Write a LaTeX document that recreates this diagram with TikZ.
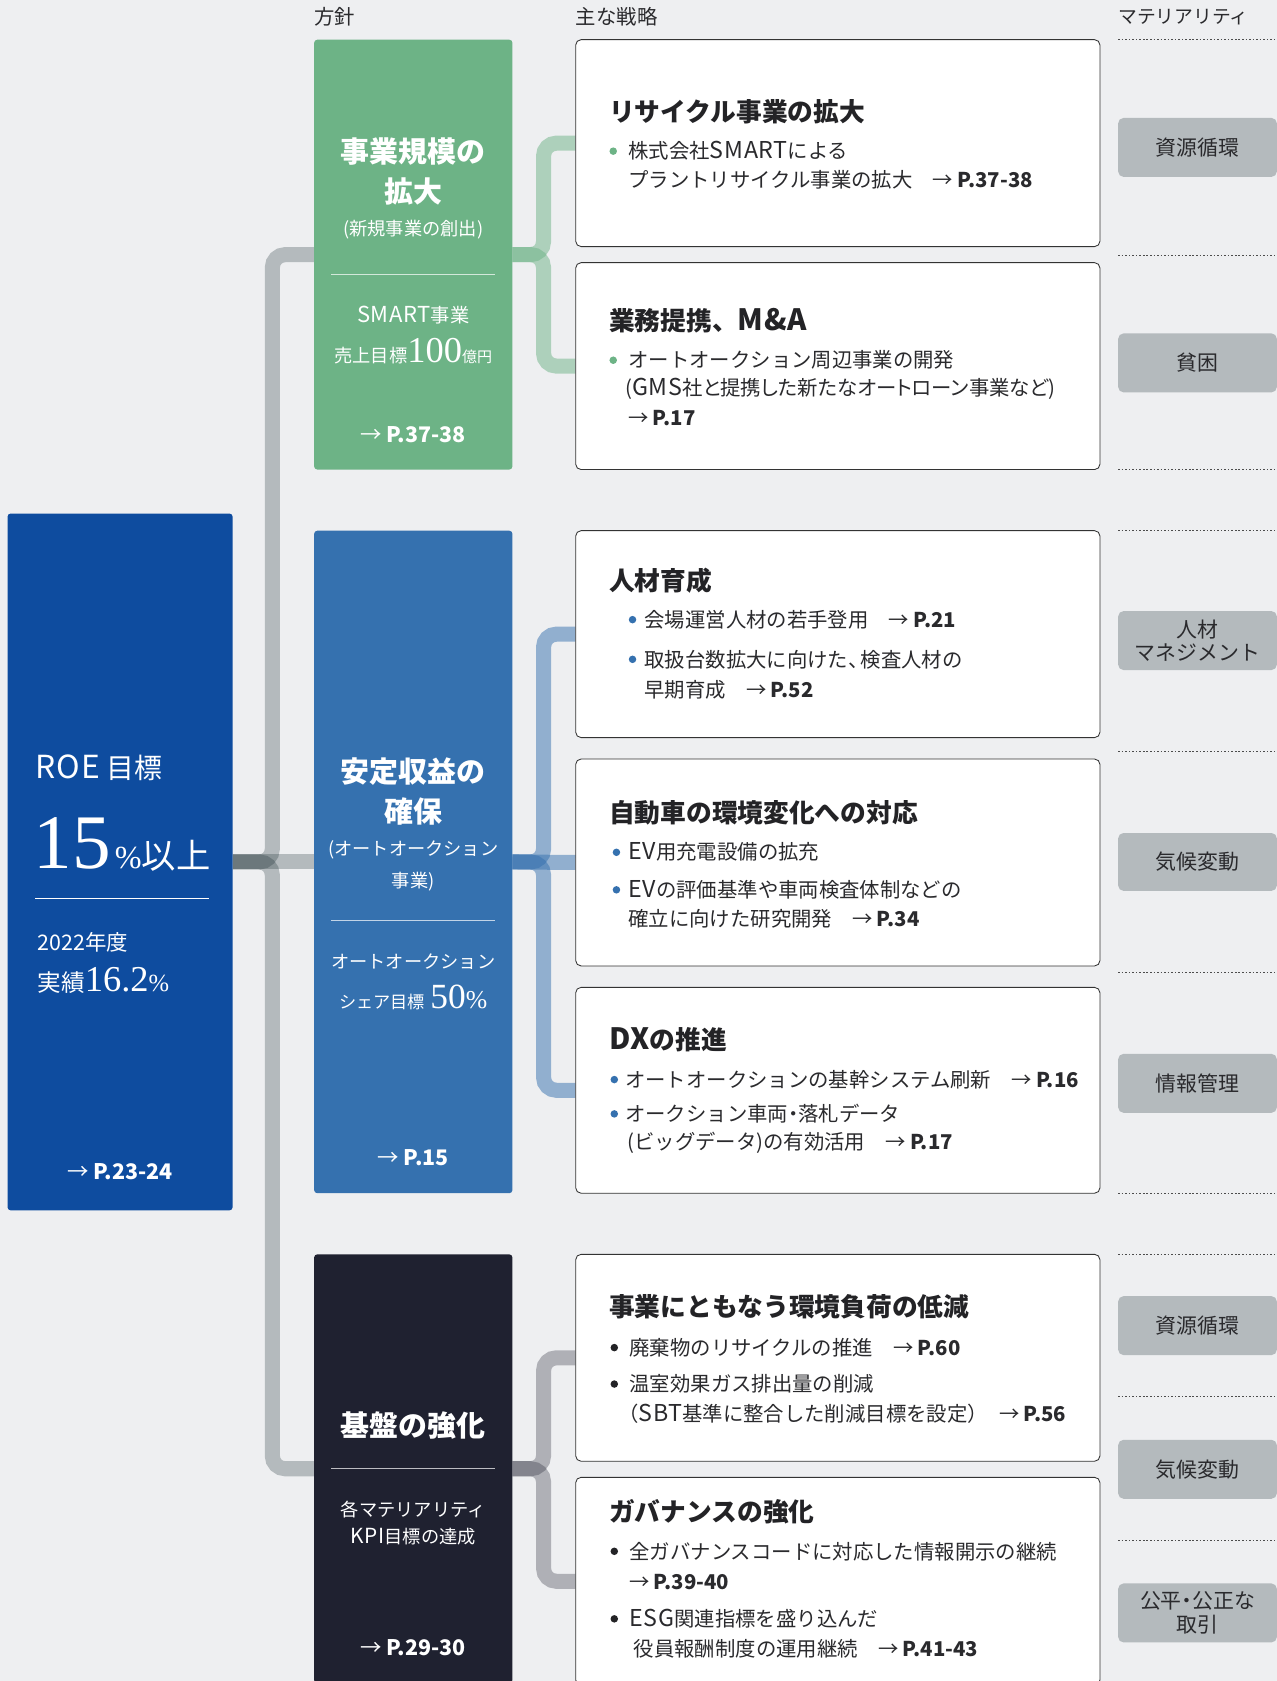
\documentclass[tikz,border=0pt]{standalone}
\usepackage{fontspec}
\setmainfont{Noto Sans CJK JP}
\newfontfamily\serifnum{Liberation Serif}
\newfontfamily\latf{Noto Sans CJK JP}[Scale=1.14, LetterSpace=3]
\definecolor{bgc}{RGB}{238,239,241}
\definecolor{roec}{RGB}{14,76,159}
\definecolor{grn}{RGB}{109,179,134}
\definecolor{blu}{RGB}{53,113,175}
\definecolor{drk}{RGB}{31,33,48}
\definecolor{tagc}{RGB}{180,186,189}
\definecolor{trk}{RGB}{31,50,55}
\definecolor{ttlc}{RGB}{35,35,38}
\definecolor{bod}{RGB}{42,42,45}
\newcommand{\pgref}[1]{{\mdseries →}\hspace{0.2em}{\bfseries P.#1}}
\newcommand{\tcomma}{\makebox[0.62em][l]{、}}
\newcommand{\tdot}{\makebox[0.5em][c]{・}}
\newcommand{\lpar}{\makebox[0.55em][r]{（}}
\newcommand{\rpar}{\makebox[0.55em][l]{）}}
\newcommand{\lt}[1]{{\latf #1}}
\pgfdeclarelayer{bglayer}
\pgfdeclarelayer{connlayer}
\pgfsetlayers{bglayer,connlayer,main}
\tikzset{
  pbox/.style={rounded corners=3pt, inner sep=0pt, outer sep=0pt, anchor=north west},
  sbox/.style={draw=black!80, line width=0.8pt, fill=white, rounded corners=5pt, inner sep=0pt, outer sep=0pt, anchor=north west, minimum width=489pt},
  tagbox/.style={fill=tagc, rounded corners=5pt, inner sep=0pt, outer sep=0pt, anchor=north west, minimum width=148pt, minimum height=55pt, align=center, text=bod, font=\fontsize{19.5}{22}\selectfont},
  trunkc/.style={draw=trk, draw opacity=0.28, line width=14pt, rounded corners=12pt},
  gconn/.style={draw=grn, draw opacity=0.5, line width=14pt, rounded corners=12pt},
  bconn/.style={draw=blu, draw opacity=0.5, line width=14pt, rounded corners=12pt},
  dconn/.style={draw=drk, draw opacity=0.3, line width=14pt, rounded corners=12pt},
  dotl/.style={draw=black!70, line width=0.9pt, dash pattern=on 1.5pt off 1.8pt},
  wt/.style={inner sep=0pt, text=white},
  ptitle/.style={wt, font=\bfseries\fontsize{27}{27}\selectfont},
  psub/.style={wt, font=\fontsize{17}{17}\selectfont},
  pref/.style={wt, font=\fontsize{20}{20}\selectfont},
  hdr/.style={inner sep=0pt, anchor=west, text=bod, font=\fontsize{19}{19}\selectfont},
  ttl/.style={inner sep=0pt, anchor=west, text=ttlc, font=\bfseries\fontsize{24}{24}\selectfont},
  body/.style={inner sep=0pt, anchor=west, text=bod, font=\fontsize{19}{19}\selectfont},
  bdot/.style={circle, inner sep=0pt, minimum size=7pt},
  divl/.style={draw=white, draw opacity=0.7, line width=1pt}
}
\begin{document}
\begin{tikzpicture}[x=1pt,y=-1pt]
\useasboundingbox (0,0) rectangle (1191,1568);
\begin{pgfonlayer}{bglayer}
\fill[bgc] (0,0) rectangle (1191,1568);
\end{pgfonlayer}
\clip (0,0) rectangle (1191,1568);

% headers
\node[hdr] (h1) at (293,16) {方針};
\node[hdr] (h2) at (537,16) {主な戦略};
\node[hdr, font=\fontsize{17.5}{17.5}\selectfont] (h3) at (1043,16) {マテリアリティ};

% dotted separators
\foreach \yy in {37,238,438,495,701,907,1113,1170,1303,1437}
  \draw[dotl] (1043,\yy) -- (1191,\yy);

% boxes (nodes)
\node[pbox, fill=roec, minimum width=210pt, minimum height=650pt] (roe) at (7,479) {};
\node[pbox, fill=grn, minimum width=185pt, minimum height=401pt] (pol1) at (293,37) {};
\node[pbox, fill=blu, minimum width=185pt, minimum height=618pt] (pol2) at (293,495) {};
\node[pbox, fill=drk, minimum width=185pt, minimum height=400pt] (pol3) at (293,1170) {};

\node[sbox, minimum height=193pt] (s1) at (537,37) {};
\node[sbox, minimum height=193pt] (s2) at (537,245) {};
\node[sbox, minimum height=193pt] (s3) at (537,495) {};
\node[sbox, minimum height=193pt] (s4) at (537,708) {};
\node[sbox, minimum height=192pt] (s5) at (537,921) {};
\node[sbox, minimum height=193pt] (s6) at (537,1170) {};
\node[sbox, minimum height=194pt] (s7) at (537,1378) {};

% junction points
\coordinate (jt) at (254,804);
\coordinate (jg) at (507,237.5);
\coordinate (jb) at (507,804);
\coordinate (jd) at (507,1370);

% connectors, on a layer beneath the boxes
\begin{pgfonlayer}{connlayer}
\draw[trunkc] (roe.east) -- (jt) |- (pol1.west);
\draw[trunkc] (roe.east) -- (pol2.west);
\draw[trunkc] (roe.east) -- (jt) |- (pol3.west);
\draw[gconn] (pol1.east) -- (jg) |- (s1.west);
\draw[gconn] (pol1.east) -- (jg) |- (s2.west);
\draw[bconn] (pol2.east) -- (jb) |- (s3.west);
\draw[bconn] (pol2.east) -- (s4.west);
\draw[bconn] (pol2.east) -- (jb) |- (s5.west);
\draw[dconn] (pol3.east) -- (jd) |- (s6.west);
\draw[dconn] (pol3.east) -- (jd) |- (s7.west);
\end{pgfonlayer}

% materiality tags
\node[tagbox] (m1) at (1043,110) {資源循環};
\node[tagbox] (m2) at (1043,311) {貧困};
\node[tagbox] (m3) at (1043,570) {人材\\マネジメント};
\node[tagbox, minimum height=54pt] (m4) at (1043,777) {気候変動};
\node[tagbox] (m5) at (1043,983) {情報管理};
\node[tagbox] (m6) at (1043,1209) {資源循環};
\node[tagbox] (m7) at (1043,1343) {気候変動};
\node[tagbox] (m8) at (1043,1477) {公平\tdot 公正な\\取引};

% ROE box text
\node[wt, anchor=west, font=\fontsize{26}{26}\selectfont] (r1) at (33,716) {\lt{ROE} 目標};
\node[wt, anchor=base west] (r2) at (31,810) {{\serifnum\fontsize{72}{72}\selectfont 15}\hspace{4pt}{\serifnum\fontsize{30}{30}\selectfont\%}{\fontsize{32}{32}\selectfont 以上}};
\draw[draw=white, line width=1pt] (33,838) -- (195,838);
\node[wt, anchor=west, font=\fontsize{20}{20}\selectfont] (r3) at (35,879) {2022年度};
\node[wt, anchor=base west] (r4) at (35,925) {{\fontsize{22}{22}\selectfont 実績}{\serifnum\fontsize{34}{34}\selectfont 16.2}{\serifnum\fontsize{23}{23}\selectfont\%}};
\node[pref] (r5) at (112,1093) {\pgref{23-24}};

% green policy text
\node[ptitle] (g1) at (385.5,141) {事業規模の};
\node[ptitle] (g2) at (385.5,179) {拡大};
\node[psub] (g3) at (385.5,214) {(新規事業の創出)};
\draw[divl] (309,256) -- (462,256);
\node[wt, font=\fontsize{18}{18}\selectfont] (g4) at (385.5,294) {\lt{SMART}事業};
\node[wt, anchor=base] (g5) at (385.5,338) {{\fontsize{17}{17}\selectfont 売上目標}{\serifnum\fontsize{34}{34}\selectfont 100}{\fontsize{14}{14}\selectfont 億円}};
\node[pref] (g6) at (385.5,405) {\pgref{37-38}};

% blue policy text
\node[ptitle] (b1) at (385.5,720) {安定収益の};
\node[ptitle] (b2) at (385.5,757) {確保};
\node[psub] (b3) at (385.5,793) {(オートオークション};
\node[psub] (b4) at (385.5,822) {事業)};
\draw[divl] (309,859) -- (462,859);
\node[psub] (b5) at (385.5,897) {オートオークション};
\node[wt, anchor=base] (b6) at (385.5,941) {{\fontsize{16}{16}\selectfont シェア目標}\hspace{5pt}{\serifnum\fontsize{33}{33}\selectfont 50}{\serifnum\fontsize{24}{24}\selectfont\%}};
\node[pref] (b7) at (385.5,1080) {\pgref{15}};

% dark policy text
\node[ptitle] (d1) at (385.5,1330) {基盤の強化};
\draw[divl] (309,1370) -- (462,1370);
\node[psub] (d2) at (385.5,1408) {各マテリアリティ};
\node[psub] (d3) at (385.5,1433) {\lt{KPI}目標の達成};
\node[pref] (d4) at (385.5,1537) {\pgref{29-30}};

% strategy box 1
\node[ttl] (s1t) at (568,104) {リサイクル事業の拡大};
\node[bdot, fill=grn] (s1d1) at (572,141) {};
\node[body] (s1a) at (586,141) {株式会社\lt{SMART}による};
\node[body] (s1b) at (586,168) {プラントリサイクル事業の拡大　\pgref{37-38}};
% strategy box 2
\node[ttl] (s2t) at (568,299) {業務提携、\lt{M\&A}};
\node[bdot, fill=grn] (s2d1) at (572,336) {};
\node[body] (s2a) at (586,336) {オートオークション周辺事業の開発};
\node[body, font=\fontsize{19}{19}\selectfont\addfontfeature{RawFeature=+palt}] (s2b) at (583,363) {(\lt{GMS}社と提携した新たなオートローン事業など)};
\node[body] (s2c) at (586,390) {\pgref{17}};
% strategy box 3
\node[ttl] (s3t) at (568,542) {人材育成};
\node[bdot, fill=blu] (s3d1) at (590,578) {};
\node[body] (s3a) at (601,578) {会場運営人材の若手登用　\pgref{21}};
\node[bdot, fill=blu] (s3d2) at (590,615) {};
\node[body] (s3b) at (601,615) {取扱台数拡大に向けた\tcomma 検査人材の};
\node[body] (s3c) at (601,643) {早期育成　\pgref{52}};
% strategy box 4
\node[ttl] (s4t) at (568,758) {自動車の環境変化への対応};
\node[bdot, fill=blu] (s4d1) at (575,795) {};
\node[body] (s4a) at (586,795) {\lt{EV}用充電設備の拡充};
\node[bdot, fill=blu] (s4d2) at (575,830) {};
\node[body] (s4b) at (586,830) {\lt{EV}の評価基準や車両検査体制などの};
\node[body] (s4c) at (586,857) {確立に向けた研究開発　\pgref{34}};
% strategy box 5
\node[ttl] (s5t) at (568,970) {\lt{DX}の推進};
\node[bdot, fill=blu] (s5d1) at (573,1007) {};
\node[body] (s5a) at (583,1007) {オートオークションの基幹システム刷新　\pgref{16}};
\node[bdot, fill=blu] (s5d2) at (573,1039) {};
\node[body] (s5b) at (583,1039) {オークション車両\tdot 落札データ};
\node[body] (s5c) at (585,1066) {(ビッグデータ)の有効活用　\pgref{17}};
% strategy box 6
\node[ttl] (s6t) at (568,1219) {事業にともなう環境負荷の低減};
\node[bdot, fill=ttlc] (s6d1) at (573,1257) {};
\node[body] (s6a) at (587,1257) {廃棄物のリサイクルの推進　\pgref{60}};
\node[bdot, fill=ttlc] (s6d2) at (573,1291) {};
\node[body] (s6b) at (587,1291) {温室効果ガス排出量の削減};
\node[body] (s6c) at (585,1319) {\lpar\lt{SBT}基準に整合した削減目標を設定\rpar　\pgref{56}};
% strategy box 7
\node[ttl] (s7t) at (568,1410) {ガバナンスの強化};
\node[bdot, fill=ttlc] (s7d1) at (573,1447) {};
\node[body] (s7a) at (587,1447) {全ガバナンスコードに対応した情報開示の継続};
\node[body] (s7b) at (587,1476) {\pgref{39-40}};
\node[bdot, fill=ttlc] (s7d2) at (573,1510) {};
\node[body] (s7c) at (587,1510) {\lt{ESG}関連指標を盛り込んだ};
\node[body] (s7e) at (591,1538) {役員報酬制度の運用継続　\pgref{41-43}};
\end{tikzpicture}
\end{document}
